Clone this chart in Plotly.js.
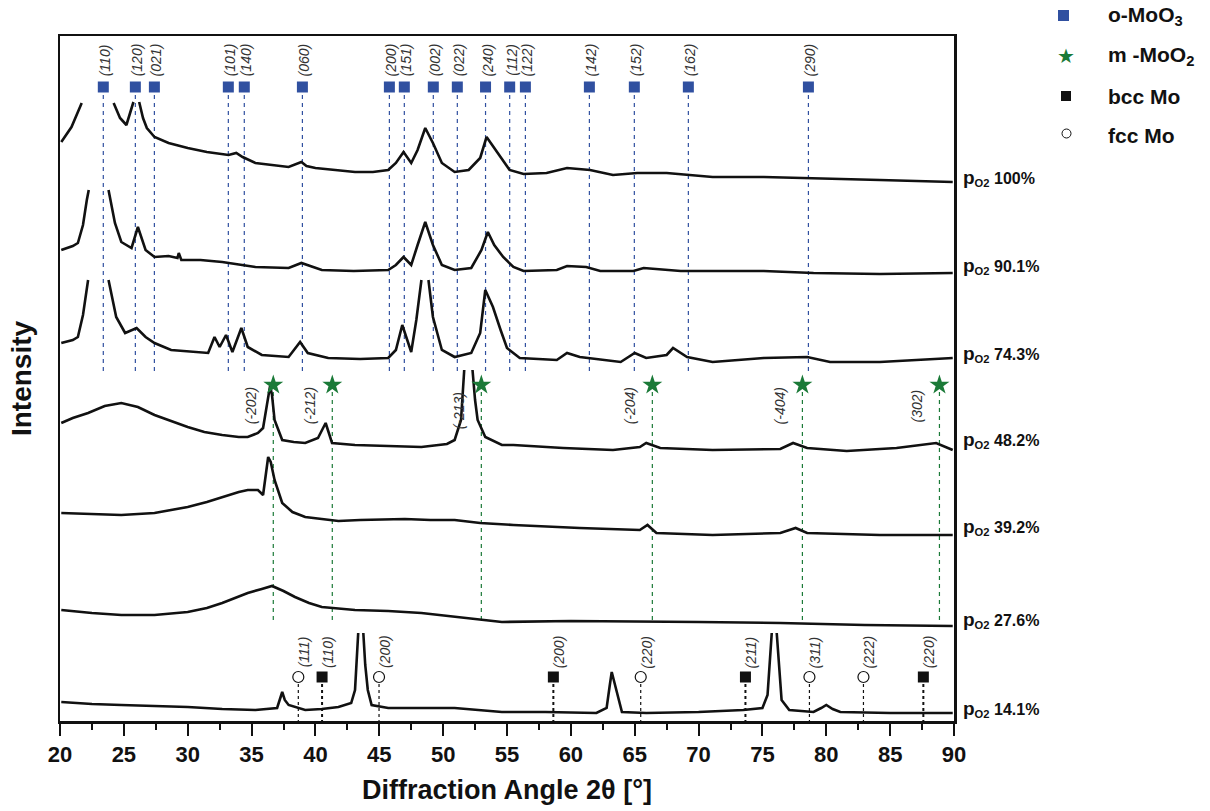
<!DOCTYPE html>
<html>
<head>
<meta charset="utf-8">
<script src="https://cdn.plot.ly/plotly-3.0.1.min.js"></script>
<style>html,body{margin:0;padding:0;background:#fff;}#chart{width:1210px;height:811px;}</style>
</head>
<body>
<div id="chart"></div>
<script>
// ---------- data (2θ in degrees, intensity in a.u. above each pattern's baseline) ----------
const sampleLabels = ['100%', '90.1%', '74.3%', '48.2%', '39.2%', '27.6%', '14.1%'];

const x_100 = [20.1,20.9,21.7,23.0,24.2,24.7,25.2,25.5,25.75,25.95,26.2,26.5,26.8,27.4,28.5,30.0,31.5,33.2,33.8,34.3,35.3,36.5,37.9,38.9,39.3,40.0,41.5,43.1,44.5,45.7,46.3,46.9,47.5,48.0,48.6,49.2,49.9,50.9,52.0,52.9,53.4,54.0,54.6,55.2,56.3,58.1,59.7,61.5,63.3,65.2,67.5,71.1,75.1,79.0,84.2,89.9];
const I_100 = [40,55,79,null,79,64,57,70,80,null,80,64,54,45,39,34,30,27,29,25,19,17,15,20,16,14,12,10,10,12,19,30,19,32,54,39,19,10,12,24,45,34,24,12,8,9,14,12,7,9,9,5,5,4,2,0];

const x_901 = [20.1,21.0,21.4,21.8,22.1,22.25,22.8,23.8,24.1,24.3,24.8,25.6,26.1,26.7,27.4,28.5,29.2,29.3,29.5,31.0,32.7,35.3,37.9,38.9,40.5,43.0,45.7,46.3,46.9,47.5,48.0,48.6,49.2,49.9,50.9,52.2,53.0,53.5,54.0,54.7,55.5,56.3,58.9,59.7,61.2,62.3,64.9,65.7,68.6,75.1,79.0,84.2,89.9];
const I_901 = [23,27,30,48,73,83,null,83,63,50,31,25,46,23,16,17,15,20,13,13,11,6,5,10,3,2,3,8,16,8,28,51,28,8,3,5,23,41,28,16,6,2,3,7,6,2,2,5,2,2,0,-1,0];

const x_743 = [20.1,21.0,21.4,21.8,22.2,22.9,23.8,24.1,24.4,25.1,25.6,26.0,26.7,27.4,28.7,30.5,31.6,32.1,32.5,33.0,33.5,34.2,34.7,35.8,37.9,38.8,39.4,41.0,43.5,45.7,46.3,46.8,47.5,47.9,48.3,48.55,48.85,49.2,49.9,50.9,52.2,52.9,53.3,53.9,54.5,55.0,56.0,58.9,59.7,60.7,63.9,65.0,65.9,67.5,68.0,69.1,71.1,75.1,78.5,80.3,84.2,89.9];
const I_743 = [15,18,21,43,78,null,78,58,41,25,28,30,21,15,8,6,5,21,11,23,6,30,11,3,1,16,5,0,-1,0,8,33,6,38,78,null,78,41,8,1,5,25,68,51,28,10,0,-2,5,1,-4,5,0,3,10,1,-4,0,1,-4,-4,0];

const x_482 = [20.1,21.0,22.2,23.5,24.8,26.1,27.4,28.7,30.0,31.3,32.7,34.0,34.7,35.5,35.9,36.2,36.45,36.6,36.8,37.4,38.3,39.2,40.2,40.8,41.3,43.1,45.7,48.3,50.3,50.9,51.4,51.65,51.95,52.3,52.5,52.7,53.3,54.6,55.5,59.4,63.3,65.4,65.9,67.0,71.1,76.4,77.4,78.5,81.6,85.5,88.6,89.9];
const I_482 = [27,32,37,44,47,43,35,29,23,18,15,13,13,17,22,45,64,55,30,10,8,7,12,27,7,5,4,3,6,10,30,80,null,80,50,30,13,5,5,2,0,3,7,2,0,1,7,2,-1,2,7,0];

const x_392 = [20.1,22.5,24.8,27.4,30.0,31.5,32.7,34.0,34.7,35.5,35.9,36.15,36.3,36.5,36.8,37.4,38.2,39.2,41.8,43.5,45.7,47.0,49.0,50.9,52.9,55.5,60.7,65.4,66.0,66.7,71.1,76.4,77.6,78.5,84.2,89.9];
const I_392 = [22,21,20,22,28,33,38,43,45,45,40,65,78,73,55,32,23,18,14,15,16,16,15,15,12,10,7,5,10,2,0,2,7,2,0,0];

const x_276 = [20.1,22.5,24.8,27.4,30.0,31.5,32.7,34.0,34.7,35.8,36.6,37.5,38.4,39.5,40.5,43.1,45.7,48.3,51.0,54.6,60.0,65.9,70.0,76.4,83.0,89.9];
const I_276 = [16,13,11,11,14,18,23,30,33,37,40,35,29,23,19,16,15,13,9,4,5,4,4,3,1,0];

const x_141 = [20.1,22.5,24.8,27.4,30.0,32.7,35.3,37.0,37.25,37.4,37.6,37.9,39.2,40.5,41.8,42.8,43.1,43.25,43.35,43.55,43.75,43.9,44.1,44.4,45.7,48.3,50.9,54.6,58.0,62.0,62.8,63.05,63.2,63.4,63.6,64.0,65.9,70.0,73.5,75.0,75.4,75.6,75.73,75.92,76.12,76.3,76.5,77.1,79.0,79.6,80.0,80.5,81.1,85.0,89.9];
const I_141 = [11,9,8,7,6,4,3,5,15,21,13,8,3,4,6,10,23,53,80,null,80,48,23,8,5,5,5,1,1,0,5,28,41,31,20,1,0,1,3,5,18,53,80,null,80,48,13,3,1,5,8,4,1,0,0];

// reference reflections
const oMoO3_pos = [23.39,25.90,27.39,33.18,34.43,38.98,45.79,46.96,49.23,51.11,53.32,55.21,56.44,61.45,64.97,69.20,78.60];
const oMoO3_hkl = ['(110)','(120)','(021)','(101)','(140)','(060)','(200)','(151)','(002)','(022)','(240)','(112)','(122)','(142)','(152)','(162)','(290)'];
const mMoO2_pos = [36.70,41.32,52.99,66.38,78.13,88.86];
const mMoO2_hkl = ['(-202)','(-212)','(-213)','(-204)','(-404)','(302)'];
const bccMo_pos = [40.52,58.63,73.67,87.60];
const bccMo_hkl = ['(110)','(200)','(211)','(220)'];
const fccMo_pos = [38.66,44.98,65.47,78.68,82.91];
const fccMo_hkl = ['(111)','(200)','(220)','(311)','(222)'];

// ---------- layout helpers ----------
const stackOffsets = [539, 448, 363, 271, 186, 95, 8];   // vertical shift of each pattern
const series = [[x_100,I_100],[x_901,I_901],[x_743,I_743],[x_482,I_482],[x_392,I_392],[x_276,I_276],[x_141,I_141]];

const BLUE = '#3050a0', GREEN = '#1b7a38';
const FONT = 'Liberation Sans, Arial, sans-serif';
const yO3 = 634, yO3top = 626, yO3bot = 349;
const yO2 = 336, yO2top = 329, yO2bot = 98;
const yMo = 44, yMotop = 37;

const traces = series.map((s, i) => ({
  x: s[0], y: s[1].map(v => v === null ? null : v + stackOffsets[i]),
  type: 'scatter', mode: 'lines', connectgaps: false,
  line: {color: '#111', width: 2.6}, showlegend: false, hoverinfo: 'skip'
}));

traces.push({x: oMoO3_pos, y: oMoO3_pos.map(() => yO3), type: 'scatter', mode: 'markers',
  marker: {symbol: 'square', size: 11, color: BLUE}, showlegend: false, cliponaxis: false});
traces.push({x: mMoO2_pos, y: mMoO2_pos.map(() => yO2), type: 'scatter', mode: 'markers',
  marker: {symbol: 'star', size: 15, color: GREEN}, showlegend: false, cliponaxis: false});
traces.push({x: bccMo_pos, y: bccMo_pos.map(() => yMo), type: 'scatter', mode: 'markers',
  marker: {symbol: 'square', size: 11, color: '#111'}, showlegend: false});
traces.push({x: fccMo_pos, y: fccMo_pos.map(() => yMo), type: 'scatter', mode: 'markers',
  marker: {symbol: 'circle-open', size: 11, color: '#111', line: {width: 1.2}}, showlegend: false});

const shapes = [];
oMoO3_pos.forEach(p => shapes.push({type: 'line', xref: 'x', yref: 'y', x0: p, x1: p, y0: yO3top, y1: yO3bot,
  line: {color: BLUE, width: 1.2, dash: '4px,4px'}, layer: 'below'}));
mMoO2_pos.forEach(p => shapes.push({type: 'line', xref: 'x', yref: 'y', x0: p, x1: p, y0: yO2top, y1: yO2bot,
  line: {color: GREEN, width: 1.2, dash: '4px,4px'}, layer: 'below'}));
bccMo_pos.forEach(p => shapes.push({type: 'line', xref: 'x', yref: 'y', x0: p, x1: p, y0: yMotop, y1: 0,
  line: {color: '#111', width: 2, dash: '3px,3px'}, layer: 'below'}));
fccMo_pos.forEach(p => shapes.push({type: 'line', xref: 'x', yref: 'y', x0: p, x1: p, y0: yMotop, y1: 0,
  line: {color: '#111', width: 1.2, dash: '3px,3px'}, layer: 'below'}));

const annotations = [];
const hklFont = {family: FONT, size: 14, color: '#333', style: 'italic'};
oMoO3_pos.forEach((p, i) => annotations.push({x: p, y: 661, xref: 'x', yref: 'y', text: oMoO3_hkl[i],
  textangle: -90, showarrow: false, font: hklFont, xshift: 2}));
mMoO2_pos.forEach((p, i) => annotations.push({x: p, y: i === 2 ? 310 : 315, xref: 'x', yref: 'y', text: mMoO2_hkl[i],
  textangle: -90, showarrow: false, font: hklFont, xshift: -22}));
bccMo_pos.forEach((p, i) => annotations.push({x: p, y: 69, xref: 'x', yref: 'y', text: bccMo_hkl[i],
  textangle: -90, showarrow: false, font: hklFont, xshift: 6}));
fccMo_pos.forEach((p, i) => annotations.push({x: p, y: 69, xref: 'x', yref: 'y', text: fccMo_hkl[i],
  textangle: -90, showarrow: false, font: hklFont, xshift: 6}));

// sample labels on the right
const labelPy = [178, 266, 354, 440, 527, 620, 709];
sampleLabels.forEach((s, i) => annotations.push({xref: 'paper', yref: 'paper', x: (961 - 60) / 894, y: (721 - labelPy[i]) / 685,
  xanchor: 'left', yanchor: 'middle', showarrow: false,
  text: '<span style="font-size:19px">p</span><sub>O2</sub> ' + s, font: {family: FONT, size: 16, color: '#111', weight: 'bold'}}));

// custom legend (outside the frame, top right)
const px2x = px => (px - 60) / 894, py2y = py => (721 - py) / 685;
const legTexts = ['o-MoO<sub>3</sub>', 'm -MoO<sub>2</sub>', 'bcc Mo', 'fcc Mo'];
const legPy = [16, 56, 96, 135];
legTexts.forEach((t, i) => annotations.push({xref: 'paper', yref: 'paper', x: px2x(1106), y: py2y(legPy[i]),
  xanchor: 'left', yanchor: 'middle', showarrow: false, text: t,
  font: {family: FONT, size: 21, color: '#111', weight: 'bold'}}));
annotations.push({xref: 'paper', yref: 'paper', x: px2x(1066), y: py2y(56), showarrow: false, text: '★',
  font: {family: 'DejaVu Sans', size: 20, color: GREEN}, xanchor: 'center', yanchor: 'middle'});
shapes.push({type: 'rect', xref: 'paper', yref: 'paper', x0: px2x(1058), x1: px2x(1069), y0: py2y(21), y1: py2y(10),
  fillcolor: BLUE, line: {width: 0}});
shapes.push({type: 'rect', xref: 'paper', yref: 'paper', x0: px2x(1061), x1: px2x(1071), y0: py2y(101), y1: py2y(91),
  fillcolor: '#111', line: {width: 0}});
shapes.push({type: 'circle', xref: 'paper', yref: 'paper', x0: px2x(1062), x1: px2x(1071), y0: py2y(138), y1: py2y(129),
  fillcolor: '#fff', line: {color: '#111', width: 1}});

const layout = {
  width: 1210, height: 811,
  margin: {l: 60, r: 256, t: 36, b: 90},
  paper_bgcolor: '#fff', plot_bgcolor: '#fff',
  showlegend: false,
  xaxis: {
    range: [20, 90], tickmode: 'linear', tick0: 20, dtick: 5,
    ticks: 'outside', ticklen: 12, tickwidth: 2, tickcolor: '#111',
    minor: {dtick: 2.5, ticks: 'outside', ticklen: 6, tickwidth: 2, tickcolor: '#111'},
    showline: true, linecolor: '#111', linewidth: 2.5, mirror: true,
    showgrid: false, zeroline: false,
    tickfont: {family: FONT, size: 22, color: '#111', weight: 'bold'},
    title: {text: 'Diffraction Angle 2θ [°]', font: {family: FONT, size: 27, color: '#111', weight: 'bold'}, standoff: 14}
  },
  yaxis: {
    range: [0, 685], showticklabels: false, ticks: '',
    showline: true, linecolor: '#111', linewidth: 2.5, mirror: true,
    showgrid: false, zeroline: false,
    title: {text: 'Intensity', font: {family: FONT, size: 28, color: '#111', weight: 'bold'}, standoff: 18}
  },
  shapes: shapes,
  annotations: annotations
};

Plotly.newPlot('chart', traces, layout, {staticPlot: true, displayModeBar: false});
</script>
</body>
</html>
